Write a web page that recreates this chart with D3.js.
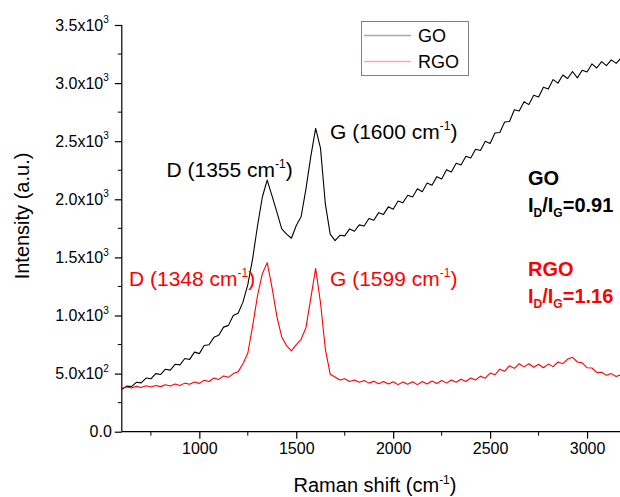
<!DOCTYPE html>
<html>
<head>
<meta charset="utf-8">
<script src="https://cdn.jsdelivr.net/npm/d3@7"></script>
<style>
  html, body { margin: 0; padding: 0; background: #fff; }
  svg { display: block; font-family: "Liberation Sans", Arial, sans-serif; }
</style>
</head>
<body>
<svg id="chart" width="620" height="497"></svg>
<script>
// Raman shift sampling grid (cm-1)
const shift = [
  600, 625, 650, 675, 700, 725, 750, 775, 800, 825, 850, 875, 900, 925, 950, 975,
  1000, 1025, 1050, 1075, 1100, 1125, 1150, 1175, 1200, 1225, 1250, 1275, 1300, 1325, 1350, 1375,
  1400, 1425, 1450, 1475, 1500, 1525, 1550, 1575, 1600, 1625, 1650, 1675, 1700, 1725, 1750, 1775,
  1800, 1825, 1850, 1875, 1900, 1925, 1950, 1975, 2000, 2025, 2050, 2075, 2100, 2125, 2150, 2175,
  2200, 2225, 2250, 2275, 2300, 2325, 2350, 2375, 2400, 2425, 2450, 2475, 2500, 2525, 2550, 2575,
  2600, 2625, 2650, 2675, 2700, 2725, 2750, 2775, 2800, 2825, 2850, 2875, 2900, 2925, 2950, 2975,
  3000, 3025, 3050, 3075, 3100, 3125, 3150, 3175
];

// GO spectrum intensity (a.u.)
const goIntensity = [
  365, 392, 388, 425, 420, 462, 455, 500, 492, 538, 530, 580, 575, 630, 622, 685,
  672, 742, 748, 812, 830, 900, 915, 1000, 1020, 1115, 1265, 1490, 1770, 2020, 2165, 2030,
  1890, 1745, 1700, 1665, 1775, 1850, 2090, 2370, 2610, 2440, 1960, 1700, 1645, 1690, 1685, 1745,
  1725, 1780, 1770, 1835, 1820, 1885, 1870, 1935, 1915, 1985, 1970, 2035, 2020, 2090, 2065, 2140,
  2120, 2195, 2175, 2255, 2235, 2310, 2295, 2370, 2355, 2430, 2420, 2500, 2480, 2570, 2575, 2665,
  2670, 2770, 2760, 2840, 2815, 2895, 2880, 2965, 2950, 3030, 3000, 3070, 3040, 3100, 3045, 3110,
  3095, 3165, 3130, 3185, 3150, 3200, 3170, 3215
];

// RGO spectrum intensity (a.u.)
const rgoIntensity = [
  372, 385, 376, 390, 380, 395, 384, 398, 388, 404, 393, 410, 398, 418, 408, 428,
  416, 442, 432, 462, 450, 480, 468, 500, 515, 585, 675, 910, 1170, 1360, 1455, 1240,
  990, 815, 740, 695, 750, 795, 895, 1150, 1405, 1110, 710, 495, 470, 445, 455, 432,
  445, 425, 440, 418, 435, 412, 432, 410, 430, 405, 428, 408, 430, 405, 432, 410,
  436, 415, 440, 418, 445, 425, 452, 432, 462, 445, 478, 460, 505, 490, 538, 520,
  568, 545, 585, 558, 585, 555, 580, 550, 582, 560, 600, 585, 625, 640, 600, 592,
  550, 548, 510, 512, 485, 500, 475, 490
];

const seriesNames = ["GO", "RGO"];
const seriesColors = ["#000000", "#ff0000"];

const xMajorTicks = [1000, 1500, 2000, 2500, 3000];
const xMinorTicks = [750, 1250, 1750, 2250, 2750];
const yMajorTicks = [0, 500, 1000, 1500, 2000, 2500, 3000, 3500];
const yMajorLabels = [["0.0", ""], ["5.0x10", "2"], ["1.0x10", "3"], ["1.5x10", "3"],
                      ["2.0x10", "3"], ["2.5x10", "3"], ["3.0x10", "3"], ["3.5x10", "3"]];
const yMinorTicks = [250, 750, 1250, 1750, 2250, 2750, 3250];

// Peak annotations: [text, superscript, closing, series index]
const peakLabels = [
  ["D (1355 cm", "-1", ")", 0],
  ["G (1600 cm", "-1", ")", 0],
  ["D (1348 cm", "-1", ")", 1],
  ["G (1599 cm", "-1", ")", 1]
];
const ratioLabels = [["GO", "0.91"], ["RGO", "1.16"]];

const svg = d3.select("#chart");
const plot = { left: 121.8, right: 620, top: 25, bottom: 431.7 };

const x = d3.scaleLinear().domain([600, 3170]).range([plot.left, plot.right]);
const y = d3.scaleLinear().domain([0, 3500]).range([plot.bottom, plot.top]);

svg.append("defs").append("clipPath").attr("id", "plotClip")
  .append("rect")
  .attr("x", plot.left).attr("y", 0)
  .attr("width", plot.right - plot.left).attr("height", plot.bottom);

// Spectra
const line = d3.line().x(d => x(d[0])).y(d => y(d[1]));
const seriesData = [goIntensity, rgoIntensity].map(vals => shift.map((s, i) => [s, vals[i]]));
svg.append("g").attr("clip-path", "url(#plotClip)")
  .selectAll("path").data(seriesData).join("path")
  .attr("d", line)
  .attr("fill", "none")
  .attr("stroke", (d, i) => seriesColors[i])
  .attr("stroke-width", 1.1)
  .attr("stroke-linejoin", "round");

// X axis
const xAxis = svg.append("g").attr("transform", `translate(0,${plot.bottom})`);
xAxis.call(d3.axisBottom(x).tickValues(xMajorTicks).tickSize(7).tickPadding(4).tickFormat(d3.format("d")));
xAxis.append("g").selectAll("line").data(xMinorTicks).join("line")
  .attr("x1", d => x(d)).attr("x2", d => x(d)).attr("y1", 0).attr("y2", 4)
  .attr("stroke", "#000");
xAxis.select(".domain").attr("d", `M${plot.left},0H${plot.right}`);
xAxis.selectAll("text").attr("font-size", 16).attr("fill", "#000")
  .attr("font-family", "Liberation Sans, Arial, sans-serif");

// Y axis
const yAxis = svg.append("g").attr("transform", `translate(${plot.left},0)`);
yAxis.call(d3.axisLeft(y).tickValues(yMajorTicks).tickSize(7).tickPadding(5).tickFormat(""));
yAxis.append("g").selectAll("line").data(yMinorTicks).join("line")
  .attr("y1", d => y(d)).attr("y2", d => y(d)).attr("x1", 0).attr("x2", -4)
  .attr("stroke", "#000");
yAxis.select(".domain").attr("d", `M0,${plot.bottom}V${plot.top}`);
yAxis.selectAll(".tick text").each(function (d, i) {
  const t = d3.select(this).text(null)
    .attr("font-size", 16).attr("fill", "#000").attr("x", -13)
    .attr("font-family", "Liberation Sans, Arial, sans-serif");
  const lab = yMajorLabels[i];
  if (lab[1]) {
    t.append("tspan").text(lab[0]);
    t.append("tspan").attr("font-size", 10).attr("dy", "-0.75em").text(lab[1]);
  } else {
    t.attr("x", -10).text(lab[0]);
  }
});
svg.selectAll(".domain, .tick line").attr("stroke", "#000").attr("stroke-width", 1.2);

// Axis titles
const axisTitleX = svg.append("text")
  .attr("x", 375).attr("y", 492).attr("text-anchor", "middle")
  .attr("font-size", 20).attr("fill", "#000");
axisTitleX.append("tspan").text("Raman shift (cm");
axisTitleX.append("tspan").attr("font-size", 12).attr("dy", -8).text("-1");
axisTitleX.append("tspan").attr("dy", 8).text(")");

svg.append("text")
  .attr("transform", "translate(29,216) rotate(-90)")
  .attr("text-anchor", "middle")
  .attr("font-size", 20).attr("fill", "#000")
  .text("Intensity (a.u.)");

// Peak labels
const peakPos = [[166.5, 176.5], [330, 138.5], [129, 286], [330, 286]];
peakLabels.forEach((p, i) => {
  const t = svg.append("text")
    .attr("x", peakPos[i][0]).attr("y", peakPos[i][1])
    .attr("font-size", 21).attr("fill", seriesColors[p[3]]);
  t.append("tspan").text(p[0]);
  t.append("tspan").attr("font-size", 12).attr("dy", -9).text(p[1]);
  t.append("tspan").attr("dy", 9).text(p[2]);
});

// ID/IG ratios
const ratioPos = [[528, 185, 211.5], [528, 276, 302.5]];
ratioLabels.forEach((r, i) => {
  const g = svg.append("g").attr("fill", seriesColors[i])
    .attr("font-weight", "bold").attr("font-size", 20);
  g.append("text").attr("x", ratioPos[i][0]).attr("y", ratioPos[i][1]).text(r[0]);
  const t = g.append("text").attr("x", ratioPos[i][0]).attr("y", ratioPos[i][2]);
  t.append("tspan").text("I");
  t.append("tspan").attr("font-size", 12).attr("dy", 5).text("D");
  t.append("tspan").attr("dy", -5).text("/I");
  t.append("tspan").attr("font-size", 12).attr("dy", 5).text("G");
  t.append("tspan").attr("dy", -5).text("=" + r[1]);
});

// Legend
const legend = svg.append("g");
legend.append("rect")
  .attr("x", 361.5).attr("y", 21.5).attr("width", 107).attr("height", 54)
  .attr("fill", "#fff").attr("stroke", "#808080").attr("stroke-width", 1);
const legendLineColors = ["#a8a8a8", "#ffa8a8"];
seriesNames.forEach((name, i) => {
  const ly = 35.5 + i * 26;
  legend.append("line")
    .attr("x1", 364).attr("x2", 411).attr("y1", ly).attr("y2", ly)
    .attr("stroke", legendLineColors[i]).attr("stroke-width", 1.5);
  legend.append("text")
    .attr("x", 418).attr("y", ly + 6.5)
    .attr("font-size", 18).attr("fill", "#000").text(name);
});
</script>
</body>
</html>
